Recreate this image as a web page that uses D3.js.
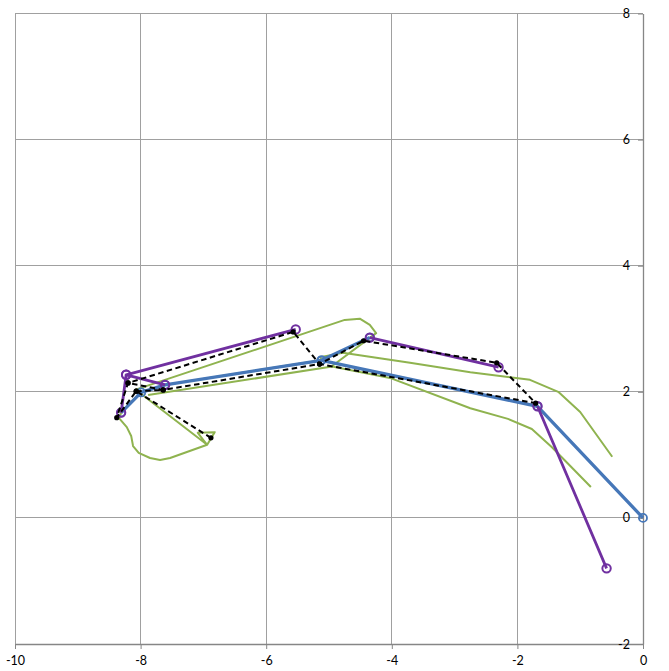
<!DOCTYPE html>
<html><head><meta charset="utf-8">
<script src="https://cdn.jsdelivr.net/npm/d3@7"></script>
<style>body{margin:0;background:#fff} svg{display:block}</style>
</head><body>
<svg id="c" width="669" height="671"></svg>
<script>
// ---- data ----
const xTicks = [-10, -8, -6, -4, -2, 0];
const yTicks = [-2, 0, 2, 4, 6, 8];

// green trajectory (null = break)
const greenPts = [
  [-0.49,0.97],[-1.00,1.68],[-1.35,2.00],[-1.80,2.19],[-2.75,2.31],[-3.71,2.46],[-4.78,2.62],[-5.14,2.55],
  [-5.12,2.50],[-7.61,2.11],[-7.99,1.99],[-8.31,1.67],[-8.34,1.58],
  [-8.22,1.44],[-8.15,1.30],[-8.12,1.14],[-8.03,1.03],[-7.85,0.95],[-7.69,0.92],[-7.53,0.95],
  [-6.94,1.16],[-6.82,1.36],[-7.09,1.35],[-6.94,1.16],[-8.01,1.98],
  null,
  [-8.09,2.03],[-4.75,3.14],[-4.51,3.16],[-4.35,3.06],[-4.25,2.93],[-4.95,2.41],
  null,
  [-7.88,1.95],[-4.95,2.40],[-4.03,2.22],[-2.75,1.74],[-2.15,1.57],[-1.77,1.41],[-1.45,1.12],[-0.83,0.49]
];

// blue skeleton
const bluePts = [
  [-8.31,1.67],[-7.99,1.99],[-7.61,2.11],[-5.12,2.50],[-4.35,2.86],
  null,
  [-5.12,2.50],[-1.68,1.77],[0,0]
];

// purple skeleton
const purplePts = [
  [-0.58,-0.80],[-1.68,1.77],
  null,
  [-2.30,2.39],[-4.35,2.86],
  null,
  [-5.53,2.99],[-8.23,2.27],[-7.61,2.11],
  null,
  [-8.23,2.27],[-8.31,1.67]
];

// black dashed skeleton
const blackPts = [
  [-6.88,1.27],[-8.07,2.01],[-8.38,1.59],[-8.20,2.14],[-5.57,2.95],[-5.15,2.44],[-4.45,2.81],
  [-2.33,2.46],[-1.71,1.82],[-5.15,2.44],[-7.64,2.03],[-8.20,2.14],
  null,
  [-8.07,2.01],[-7.64,2.03]
];

// ---- chart ----
const svg = d3.select('#c');
const x = d3.scaleLinear().domain([-10, 0]).range([15, 643]);
const y = d3.scaleLinear().domain([-2, 8]).range([644, 13.5]);
const FONT = 'Lato, "Open Sans", sans-serif';

// gridlines
const grid = svg.append('g');
grid.selectAll('line.v').data(xTicks.filter(d => d !== 0)).enter().append('line')
  .attr('x1', d => x(d)).attr('x2', d => x(d)).attr('y1', y(8)).attr('y2', y(-2))
  .attr('stroke', '#a0a0a0').attr('stroke-width', 1).attr('shape-rendering', 'crispEdges');
grid.selectAll('line.h').data(yTicks.filter(d => d !== -2)).enter().append('line')
  .attr('x1', x(-10)).attr('x2', x(0)).attr('y1', d => y(d)).attr('y2', d => y(d))
  .attr('stroke', '#a0a0a0').attr('stroke-width', 1).attr('shape-rendering', 'crispEdges');

// axes
const xAxis = svg.append('g').attr('transform', `translate(0,${y(-2)})`)
  .call(d3.axisBottom(x).tickValues(xTicks).tickSize(5).tickSizeOuter(0).tickPadding(7).tickFormat(d3.format('d')));
const yAxis = svg.append('g').attr('transform', `translate(${x(0)},0)`)
  .call(d3.axisLeft(y).tickValues(yTicks).tickSize(5).tickSizeOuter(0).tickPadding(8).tickFormat(d3.format('d')));
[xAxis, yAxis].forEach(a => {
  a.select('.domain').attr('stroke', '#868686').attr('stroke-width', 1.3);
  a.selectAll('.tick line').attr('stroke', '#868686');
  a.selectAll('.tick text').attr('fill', '#000').style('font-family', FONT).style('font-size', '12.5px');
});
xAxis.selectAll('.tick text').text(d => d < 0 ? '-' + Math.abs(d) : d);
yAxis.selectAll('.tick text').text(d => d < 0 ? '-' + Math.abs(d) : d);

const line = d3.line().defined(d => d !== null).x(d => x(d[0])).y(d => y(d[1]));

// green
svg.append('path').datum(greenPts).attr('d', line)
  .attr('fill', 'none').attr('stroke', '#8fb34f').attr('stroke-width', 2)
  .attr('stroke-linejoin', 'round');

// blue
svg.append('path').datum(bluePts).attr('d', line)
  .attr('fill', 'none').attr('stroke', '#4677b8').attr('stroke-width', 3.3)
  .attr('stroke-linejoin', 'round');
svg.append('g').selectAll('circle').data(bluePts.filter(d => d)).enter().append('circle')
  .attr('cx', d => x(d[0])).attr('cy', d => y(d[1])).attr('r', 4)
  .attr('fill', 'none').attr('stroke', '#4677b8').attr('stroke-width', 1.8);

// purple
svg.append('path').datum(purplePts).attr('d', line)
  .attr('fill', 'none').attr('stroke', '#7030a0').attr('stroke-width', 2.8)
  .attr('stroke-linejoin', 'round');
svg.append('g').selectAll('circle').data(purplePts.filter(d => d)).enter().append('circle')
  .attr('cx', d => x(d[0])).attr('cy', d => y(d[1])).attr('r', 4.2)
  .attr('fill', 'none').attr('stroke', '#7030a0').attr('stroke-width', 2);

// black dashed
svg.append('path').datum(blackPts).attr('d', line)
  .attr('fill', 'none').attr('stroke', '#000').attr('stroke-width', 2)
  .attr('stroke-dasharray', '5.5,3.5');
svg.append('g').selectAll('circle').data(blackPts.filter(d => d)).enter().append('circle')
  .attr('cx', d => x(d[0])).attr('cy', d => y(d[1])).attr('r', 2.6)
  .attr('fill', '#000');
</script>
</body></html>
